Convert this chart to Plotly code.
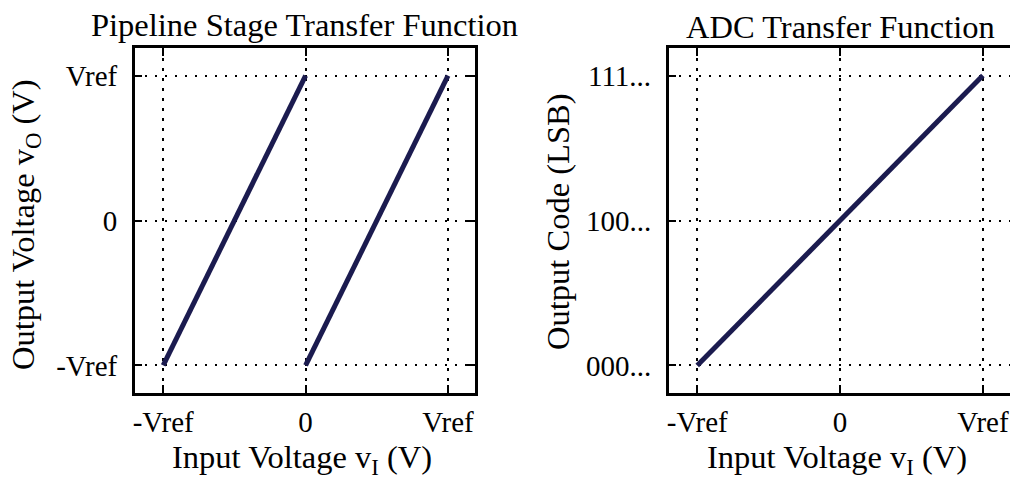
import plotly.graph_objects as go

# ---- data ----
stage_seg1_x = [-1, 0]
stage_seg1_y = [-1, 1]
stage_seg2_x = [0, 1]
stage_seg2_y = [-1, 1]
adc_x = [-1, 1]
adc_y = [-1, 1]

tick_vals = [-1, 0, 1]
x_tick_text = ["-Vref", "0", "Vref"]
stage_y_tick_text = ["-Vref", "0", "Vref"]
adc_y_tick_text = ["000...", "100...", "111..."]

LINE_COLOR = "#1b1b4f"
FONT = "Liberation Serif"
W, H = 1010, 483
PT, PB = 48, 393  # plot area top/bottom px


def py(p):
    return (PB - p) / (PB - PT)


def px(p):
    return p / W


fig = go.Figure()
for xs, ys in [(stage_seg1_x, stage_seg1_y), (stage_seg2_x, stage_seg2_y)]:
    fig.add_trace(go.Scatter(x=xs, y=ys, mode="lines", xaxis="x", yaxis="y",
                             line=dict(color=LINE_COLOR, width=5), showlegend=False,
                             hoverinfo="skip"))
fig.add_trace(go.Scatter(x=adc_x, y=adc_y, mode="lines", xaxis="x2", yaxis="y2",
                         line=dict(color=LINE_COLOR, width=5), showlegend=False,
                         hoverinfo="skip"))

common = dict(
    tickmode="array", tickvals=tick_vals,
    ticks="inside", ticklen=8, tickwidth=1.5, tickcolor="black",
    showline=True, linecolor="black", linewidth=2.5,
    showgrid=True, gridcolor="black", gridwidth=2, griddash="2.5px,7.5px",
    zeroline=False, tickfont=dict(family=FONT, size=29, color="black"),
    fixedrange=True,
)

fig.update_layout(
    width=W, height=H,
    margin=dict(l=0, r=0, t=PT, b=H - PB, pad=0),
    paper_bgcolor="white", plot_bgcolor="white",
    xaxis=dict(domain=[133 / W, 474 / W], range=[-1.2, 1.19], ticktext=x_tick_text,
               mirror="ticks", anchor="y", ticklabelstandoff=1, **common),
    yaxis=dict(domain=[0, 1], range=[-1.19, 1.19], ticktext=stage_y_tick_text,
               mirror="ticks", anchor="x", ticklabelstandoff=9, **common),
    xaxis2=dict(domain=[668 / W, 1.0], range=[-1.2, 1.19], ticktext=x_tick_text,
                mirror="ticks", anchor="y2", ticklabelstandoff=1, **common),
    yaxis2=dict(domain=[0, 1], range=[-1.19, 1.19], ticktext=adc_y_tick_text,
                mirror=False, anchor="x2", ticklabelstandoff=9, **common),
)

tf = dict(family=FONT, size=32.5, color="black")
ttl = dict(family=FONT, size=32.5, color="black")
annots = [
    dict(text="Pipeline Stage Transfer Function", x=px(303), y=py(25), font=ttl),
    dict(text="ADC Transfer Function", x=px(840), y=py(27), font=ttl),
    dict(text="Input Voltage v<sub>I</sub> (V)", x=px(301), y=py(459), font=tf),
    dict(text="Input Voltage v<sub>I</sub> (V)", x=px(837), y=py(459), font=tf),
    dict(text="Output Voltage v<sub>O</sub> (V)", x=px(23), y=py(224), textangle=-90, font=tf),
    dict(text="Output Code (LSB)", x=px(557), y=py(222), textangle=-90, font=tf),
]
for a in annots:
    fig.add_annotation(xref="paper", yref="paper", showarrow=False,
                       xanchor="center", yanchor="middle", **a)

fig.write_html("out.html", config={"displayModeBar": False},
               post_script="document.body.style.margin='0';document.body.style.overflow='hidden';")
